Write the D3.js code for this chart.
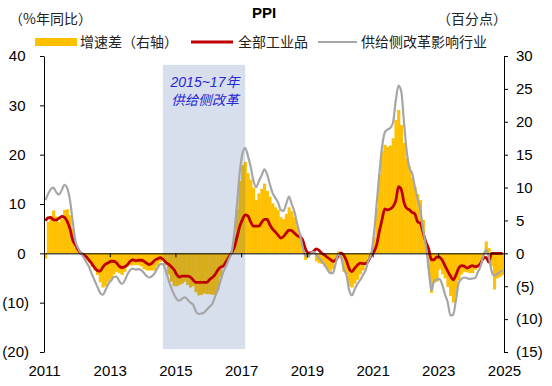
<!DOCTYPE html>
<html>
<head>
<meta charset="utf-8">
<script src="https://cdn.jsdelivr.net/npm/d3@7"></script>
<style>
  body { margin: 0; background: #fff; }
  svg { display: block; }
  text { font-family: "Liberation Sans", Arial, "Noto Sans CJK SC", sans-serif; }
  .cjk { font-family: "Noto Sans CJK SC", sans-serif; }
  .mix { font-family: "Liberation Sans", "Noto Sans CJK SC", sans-serif; }
</style>
</head>
<body>
<svg width="552" height="386"></svg>
<script>
// monthly data, Jan 2011 .. Dec 2024
// 全部工业品 PPI yoy (%)
const allIndustry = [
  6.6, 7.2, 7.3, 6.8, 6.8, 7.1, 7.5, 7.3, 6.5, 5.0, 2.7, 1.7,
  0.7, 0.0, -0.3, -0.7, -1.4, -2.1, -2.9, -3.5, -3.6, -2.8, -2.2, -1.9,
  -1.6, -1.6, -1.9, -2.6, -2.9, -2.7, -2.3, -1.6, -1.3, -1.5, -1.4, -1.4,
  -1.6, -2.0, -2.3, -2.0, -1.4, -1.1, -0.9, -1.2, -1.8, -2.2, -2.7, -3.3,
  -4.3, -4.8, -4.6, -4.6, -4.6, -4.8, -5.4, -5.9, -5.9, -5.9, -5.9, -5.9,
  -5.3, -4.9, -4.3, -3.4, -2.8, -2.6, -1.7, -0.8, 0.1, 1.2, 3.3, 5.5,
  6.9, 7.8, 7.6, 6.4, 5.5, 5.5, 5.5, 6.3, 6.9, 6.9, 5.8, 4.9,
  4.3, 3.7, 3.1, 3.4, 4.1, 4.7, 4.6, 4.1, 3.6, 3.3, 2.7, 0.9,
  0.1, 0.1, 0.4, 0.9, 0.6, 0.0, -0.3, -0.8, -1.2, -1.6, -1.4, -0.5,
  0.1, -0.4, -1.5, -3.1, -3.7, -3.0, -2.4, -2.0, -2.1, -2.1, -1.5, -0.4,
  0.3, 1.7, 4.4, 6.8, 9.0, 8.8, 9.0, 9.5, 10.7, 13.5, 12.9, 10.3,
  9.1, 8.8, 8.3, 8.0, 6.4, 6.1, 4.2, 2.3, 0.9, -1.3, -1.3, -0.7,
  -0.8, -1.4, -2.5, -3.6, -4.6, -5.4, -4.4, -3.0, -2.5, -2.6, -3.0, -2.7,
  -2.5, -2.7, -2.6, -2.0, -1.0, -0.8, -1.8, 0, 0, 0, 0, 0
];
// 供给侧改革影响行业 PPI yoy (%)
const reformIndustry = [
  10.8, 12.0, 13.0, 13.3, 12.4, 11.9, 12.8, 13.9, 13.2, 10.8, 6.5, 2.5,
  1.0, 0.0, -0.8, -1.8, -2.8, -4.2, -5.5, -6.8, -8.0, -8.4, -7.4, -6.2,
  -5.5, -4.8, -4.7, -5.6, -6.2, -5.5, -4.3, -3.4, -3.1, -3.3, -3.2, -3.4,
  -4.0, -4.6, -4.9, -4.6, -4.0, -3.0, -2.2, -2.2, -3.6, -5.4, -7.0, -8.3,
  -9.3, -9.6, -9.2, -8.9, -9.4, -10.0, -10.4, -11.8, -12.3, -12.2, -12.0, -11.4,
  -10.8, -10.2, -8.8, -7.4, -5.6, -3.8, -2.6, -1.2, 0.2, 4.0, 10.0, 16.5,
  20.3, 21.4, 19.8, 17.6, 14.8, 13.4, 14.6, 15.8, 17.0, 16.0, 14.0, 12.2,
  11.2, 10.3, 8.8, 8.6, 10.0, 11.5, 10.0, 8.4, 6.0, 3.8, 1.2, -0.5,
  -0.6, 0.0, 0.3, -0.3, -0.9, -1.6, -2.3, -3.2, -4.0, -4.0, -2.2, -0.2,
  -0.8, -3.2, -4.4, -7.5, -8.5, -7.3, -6.2, -5.4, -4.4, -3.4, -1.4, -0.2,
  4.0, 10.0, 16.0, 21.5, 24.5, 25.1, 25.4, 26.5, 31.0, 34.0, 32.8, 26.5,
  20.5, 17.3, 16.2, 13.5, 11.0, 8.8, 4.8, 1.5, -3.0, -7.6, -5.6, -5.3,
  -5.2, -6.4, -8.3, -9.9, -12.6, -12.4, -9.5, -6.0, -5.2, -4.9, -5.0, -5.2,
  -5.1, -5.0, -3.8, -2.6, -0.4, 0.7, -0.8, -3.6, -4.5, -4.2, -3.8, -3.4
];
// 增速差 (ppt, right axis)
const spread = [
  -0.8, 4.8, 5.7, 6.5, 5.6, 4.8, 5.3, 6.6, 6.7, 5.8, 3.8, 0.8,
  0.3, 0.0, -0.5, -1.1, -1.4, -2.1, -2.6, -3.3, -4.4, -5.2, -5.0, -4.3,
  -3.9, -3.2, -2.8, -3.0, -3.3, -2.8, -2.0, -1.8, -1.8, -1.8, -1.8, -2.0,
  -2.4, -2.6, -2.6, -2.6, -2.6, -1.9, -1.3, -1.0, -1.8, -3.2, -4.3, -5.0,
  -5.0, -4.8, -4.6, -4.3, -4.8, -5.2, -5.0, -5.9, -6.4, -6.3, -6.1, -6.2,
  -6.2, -6.3, -6.3, -5.5, -3.6, -1.8, -1.0, -0.4, 0.1, 2.8, 6.7, 11.0,
  13.4, 13.9, 12.2, 11.2, 10.0, 8.1, 9.1, 9.8, 10.6, 9.5, 8.6, 7.6,
  7.0, 6.6, 5.5, 5.2, 6.0, 7.0, 6.4, 5.5, 4.2, 3.0, 0.5, -1.0,
  -0.7, -0.1, -0.1, -1.2, -1.5, -1.6, -2.0, -2.4, -2.8, -2.4, -0.8, 0.3,
  -0.9, -2.8, -3.2, -5.0, -5.2, -4.6, -4.0, -3.2, -2.6, -1.6, -0.6, 0.2,
  2.5, 7.0, 12.0, 15.5, 16.5, 16.2, 16.4, 17.5, 20.3, 21.8, 19.5, 16.8,
  14.5, 13.2, 11.5, 10.1, 9.0, 8.1, 5.1, 1.0, -2.5, -6.0, -4.5, -4.3,
  -2.5, -3.2, -3.8, -5.1, -6.5, -7.5, -6.6, -4.1, -3.2, -2.8, -2.9, -3.0,
  -3.0, -2.5, -2.0, -1.5, -0.5, 1.8, 0.8, -2.0, -5.5, -3.8, -3.6, -3.3
];
const yearTicks = [2011, 2013, 2015, 2017, 2019, 2021, 2023, 2025];
const leftTicks = [40, 30, 20, 10, 0, -10, -20];
const rightTicks = [30, 25, 20, 15, 10, 5, 0, -5, -10, -15];
const reformPeriod = [new Date(2014, 7, 15), new Date(2017, 1, 15)];

const svg = d3.select("svg");
const x0 = 44, x1 = 504, yTop = 56, yBot = 352;

const months = d3.timeMonth.range(new Date(2011, 0, 1), new Date(2025, 0, 1));
const x = d3.scaleTime().domain([new Date(2011, 0, 1), new Date(2025, 0, 1)]).range([x0, x1]);
const yL = d3.scaleLinear().domain([-20, 40]).range([yBot, yTop]);
const yR = d3.scaleLinear().domain([-15, 30]).range([yBot, yTop]);
const mid = (i) => (x(months[i]) + x(d3.timeMonth.offset(months[i], 1))) / 2;

// bars of the spread (right axis)
svg.append("g")
  .selectAll("rect")
  .data(spread)
  .join("rect")
  .attr("x", (d, i) => x(months[i]))
  .attr("width", (d, i) => x(d3.timeMonth.offset(months[i], 1)) - x(months[i]) + 0.4)
  .attr("y", (d) => yR(Math.max(0, d)))
  .attr("height", (d) => Math.abs(yR(d) - yR(0)))
  .attr("fill", "#ffc000");

// 2015~17 supply side reform shading
svg.append("rect")
  .attr("x", x(reformPeriod[0]))
  .attr("width", x(reformPeriod[1]) - x(reformPeriod[0]))
  .attr("y", yL(38.2))
  .attr("height", yL(-19.4) - yL(38.2))
  .attr("fill", "rgb(45,85,155)")
  .attr("fill-opacity", 0.19);

const line = d3.line()
  .x((d, i) => mid(i))
  .y((d) => yL(d))
  .curve(d3.curveMonotoneX);

svg.append("path").datum(allIndustry)
  .attr("d", line).attr("fill", "none")
  .attr("stroke", "#c00000").attr("stroke-width", 2.8);
svg.append("path").datum(reformIndustry)
  .attr("d", line).attr("fill", "none")
  .attr("stroke", "#a6a6a6").attr("stroke-width", 2.2);

const fmt = (d) => (d < 0 ? "(" + -d + ")" : d);

// zero line with year ticks
svg.append("g")
  .attr("transform", `translate(0,${yL(0)})`)
  .call(d3.axisBottom(x)
    .tickValues(yearTicks.map((y) => new Date(y, 0, 1)))
    .tickSize(4).tickSizeOuter(0).tickFormat(""))
  .call((g) => g.selectAll("path,line").attr("stroke", "#000"));

// year labels along the bottom
svg.append("g")
  .attr("transform", `translate(0,${yBot})`)
  .call(d3.axisBottom(x)
    .tickValues(yearTicks.map((y) => new Date(y, 0, 1)))
    .tickSize(0).tickPadding(13).tickFormat(d3.timeFormat("%Y")))
  .call((g) => g.select(".domain").remove())
  .call((g) => g.selectAll("text").attr("font-size", 15).attr("fill", "#000")
    .attr("font-family", "Liberation Sans, Arial, sans-serif"));

// left axis
svg.append("g")
  .attr("transform", `translate(${x0},0)`)
  .call(d3.axisLeft(yL).tickValues(leftTicks).tickSize(4).tickSizeOuter(0)
    .tickPadding(11).tickFormat(fmt))
  .call((g) => g.selectAll("path,line").attr("stroke", "#000"))
  .call((g) => g.selectAll("text").attr("font-size", 15).attr("fill", "#000")
    .attr("font-family", "Liberation Sans, Arial, sans-serif")
    .attr("x", (d) => (d < 0 ? -15 : -18.5)));

// right axis
svg.append("g")
  .attr("transform", `translate(${x1},0)`)
  .call(d3.axisRight(yR).tickValues(rightTicks).tickSize(4).tickSizeOuter(0)
    .tickPadding(8).tickFormat(fmt))
  .call((g) => g.selectAll("path,line").attr("stroke", "#000"))
  .call((g) => g.selectAll("text").attr("font-size", 15).attr("fill", "#000")
    .attr("font-family", "Liberation Sans, Arial, sans-serif"));

// annotation inside shading
const ann = svg.append("g").attr("fill", "#2626d4").attr("font-style", "italic")
  .attr("text-anchor", "middle").attr("class", "mix");
ann.append("text").attr("x", 205).attr("y", 82).attr("dy", "0.35em")
  .attr("font-size", 14).text("2015~17年");
ann.append("text").attr("x", 205).attr("y", 100).attr("dy", "0.35em")
  .attr("font-size", 13.5).text("供给侧改革");

// titles
svg.append("text").attr("x", 264).attr("y", 13).attr("dy", "0.35em")
  .attr("text-anchor", "middle").attr("font-weight", "bold").attr("font-size", 15)
  .text("PPI");
svg.append("text").attr("class", "cjk").attr("x", 9).attr("y", 19).attr("dy", "0.35em")
  .attr("font-size", 14).attr("fill", "#222").text("（%年同比）");
svg.append("text").attr("class", "cjk").attr("x", 507).attr("y", 19).attr("dy", "0.35em")
  .attr("text-anchor", "end").attr("font-size", 14).attr("fill", "#222").text("（百分点）");

// legend
const lg = svg.append("g").attr("class", "cjk").attr("font-size", 14).attr("fill", "#222");
lg.append("rect").attr("x", 35).attr("y", 38).attr("width", 42).attr("height", 8).attr("fill", "#ffc000");
lg.append("text").attr("x", 80).attr("y", 42).attr("dy", "0.35em").text("增速差（右轴）");
lg.append("line").attr("x1", 191).attr("x2", 233).attr("y1", 42).attr("y2", 42)
  .attr("stroke", "#c00000").attr("stroke-width", 2.8);
lg.append("text").attr("x", 238).attr("y", 42).attr("dy", "0.35em").text("全部工业品");
lg.append("line").attr("x1", 318).attr("x2", 357).attr("y1", 42).attr("y2", 42)
  .attr("stroke", "#a6a6a6").attr("stroke-width", 2.2);
lg.append("text").attr("x", 361).attr("y", 42).attr("dy", "0.35em").text("供给侧改革影响行业");
</script>
</body>
</html>
